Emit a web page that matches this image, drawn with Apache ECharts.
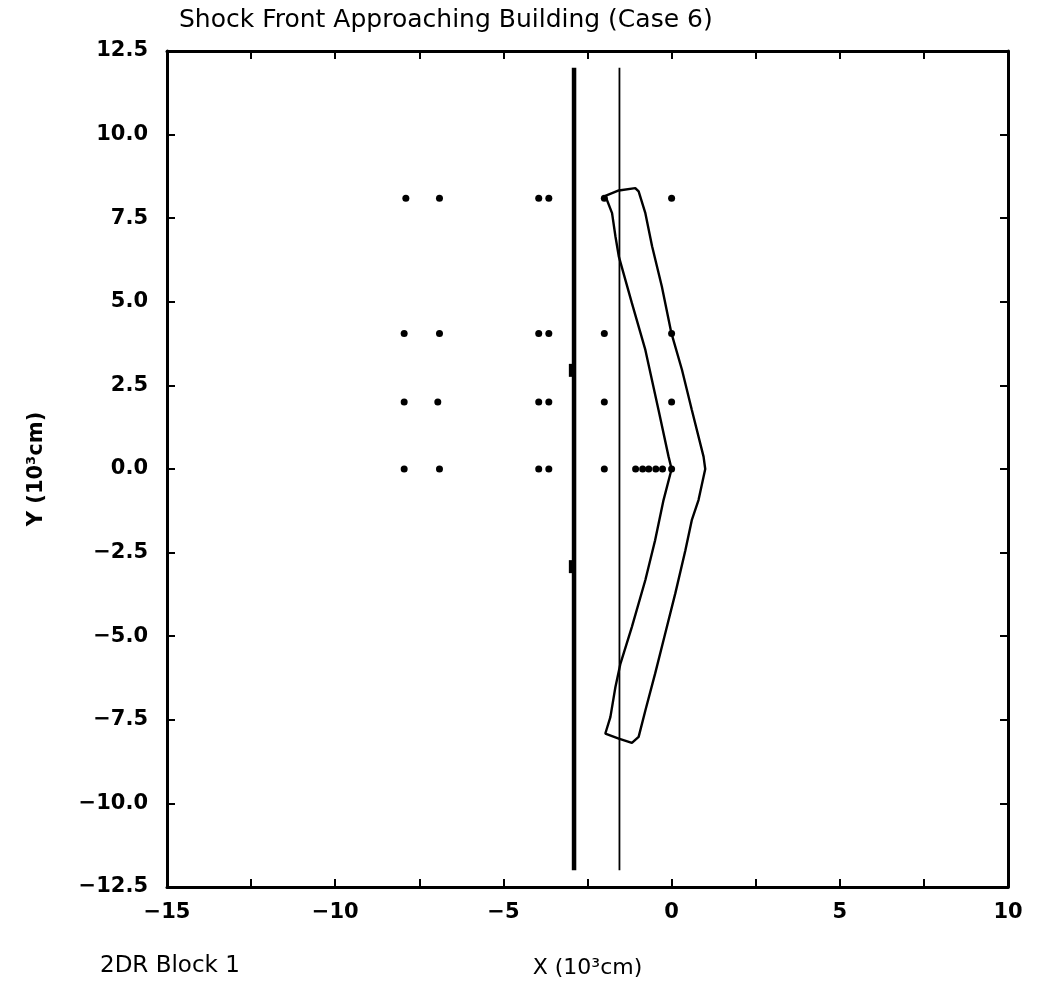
<!DOCTYPE html>
<html>
<head>
<meta charset="utf-8">
<script src="https://cdn.jsdelivr.net/npm/echarts@6/dist/echarts.min.js"></script>
<style>
html,body{margin:0;padding:0;background:#fff;}
#chart{width:1040px;height:992px;}
</style>
</head>
<body>
<div id="chart"></div>
<script>
// ---- data ----
const titleText = 'Shock Front Approaching Building (Case 6)';
const xName = 'X (10\u00B3cm)';
const yName = 'Y (10\u00B3cm)';
const footText = '2DR Block 1';

// gauge / station points (x, y) in 10^3 cm
const gaugePoints = [
  [-7.9, 8.1], [-6.9, 8.1], [-3.95, 8.1], [-3.65, 8.1], [-2.0, 8.1], [0.0, 8.1],
  [-7.95, 4.05], [-6.9, 4.05], [-3.95, 4.05], [-3.65, 4.05], [-2.0, 4.05], [0.0, 4.05],
  [-7.95, 2.0], [-6.95, 2.0], [-3.95, 2.0], [-3.65, 2.0], [-2.0, 2.0], [0.0, 2.0],
  [-7.95, 0.0], [-6.9, 0.0], [-3.95, 0.0], [-3.65, 0.0], [-2.0, 0.0],
  [-1.07, 0.0], [-0.86, 0.0], [-0.68, 0.0], [-0.47, 0.0], [-0.27, 0.0], [0.0, 0.0]
];

// building face (thick line) and reference line (thin line)
const thickLine = [[-2.9, -12.0], [-2.9, 12.0]];
const thinLine = [[-1.55, -12.0], [-1.55, 12.0]];
const thickLineBumps = [[-2.98, 2.95], [-2.98, -2.92]];

// shock front outline (closed loop)
const shockFront = [
  [-1.97, 8.17], [-1.57, 8.33], [-1.08, 8.40], [-0.98, 8.30],
  [-0.78, 7.65], [-0.58, 6.66], [-0.29, 5.46], [-0.01, 4.08],
  [0.31, 2.96], [0.60, 1.77], [0.95, 0.37], [1.00, 0.0],
  [0.80, -0.93], [0.60, -1.53], [0.41, -2.43], [0.11, -3.72],
  [-0.19, -4.92], [-0.49, -6.12], [-0.78, -7.22], [-0.98, -8.01],
  [-1.18, -8.19], [-1.57, -8.06], [-1.97, -7.91],
  [-1.82, -7.42], [-1.67, -6.52], [-1.52, -5.82], [-1.18, -4.72],
  [-0.78, -3.32], [-0.49, -2.13], [-0.24, -0.93], [0.0, 0.0],
  [-0.09, 0.37], [-0.39, 1.77], [-0.78, 3.56], [-1.18, 4.96],
  [-1.57, 6.36], [-1.67, 6.96], [-1.77, 7.65], [-1.97, 8.17]
];

// axes
const xMin = -15, xMax = 10, xStep = 2.5;
const yMin = -12.5, yMax = 12.5, yStep = 2.5;

// ---- chart ----
const tickFont = 'DejaVu Sans';
const fmtX = v => (Math.abs(v % 5) < 1e-9 ? String(v).replace('-', '\u2212') : '');
const fmtY = v => v.toFixed(1).replace('-', '\u2212');

const axisLineStyle = { show: true, onZero: false, lineStyle: { color: '#000', width: 3 } };
const tickStyle = { show: true, inside: true, length: 8, lineStyle: { color: '#000', width: 2 } };

const chart = echarts.init(document.getElementById('chart'), null, { renderer: 'canvas' });
chart.setOption({
  animation: false,
  backgroundColor: '#fff',
  title: {
    text: titleText, left: 174, top: 3,
    textStyle: { fontFamily: tickFont, fontSize: 25, fontWeight: 'normal', color: '#000' }
  },
  graphic: [{
    type: 'text', left: 100, top: 955,
    style: { text: footText, font: 'normal 23px "DejaVu Sans"', fill: '#000' }
  }],
  grid: { left: 167, right: 32, top: 51, bottom: 105, containLabel: false },
  xAxis: [{
    type: 'value', min: xMin, max: xMax, interval: xStep, position: 'bottom',
    axisLine: axisLineStyle, axisTick: tickStyle, splitLine: { show: false },
    axisLabel: { formatter: fmtX, margin: 15, color: '#000', fontFamily: tickFont, fontWeight: 'bold', fontSize: 21 },
    name: xName, nameLocation: 'middle', nameGap: 70,
    nameTextStyle: { fontFamily: tickFont, fontSize: 22, color: '#000' }
  }, {
    type: 'value', min: xMin, max: xMax, interval: xStep, position: 'top',
    axisLine: axisLineStyle, axisTick: tickStyle, splitLine: { show: false },
    axisLabel: { show: false }
  }],
  yAxis: [{
    type: 'value', min: yMin, max: yMax, interval: yStep, position: 'left',
    axisLine: axisLineStyle, axisTick: tickStyle, splitLine: { show: false },
    axisLabel: { formatter: fmtY, margin: 19, color: '#000', fontFamily: tickFont, fontWeight: 'bold', fontSize: 21 },
    name: yName, nameLocation: 'middle', nameGap: 120, nameRotate: 90,
    nameTextStyle: { fontFamily: tickFont, fontSize: 21, fontWeight: 'bold', color: '#000' }
  }, {
    type: 'value', min: yMin, max: yMax, interval: yStep, position: 'right',
    axisLine: axisLineStyle, axisTick: tickStyle, splitLine: { show: false },
    axisLabel: { show: false }
  }],
  series: [
    {
      type: 'line', data: thickLine, symbol: 'none', silent: true,
      lineStyle: { color: '#000', width: 4.5 }
    },
    {
      type: 'line', data: thinLine, symbol: 'none', silent: true,
      lineStyle: { color: '#000', width: 1.8 }
    },
    {
      type: 'scatter', data: thickLineBumps, symbol: 'rect', symbolSize: [5, 13],
      itemStyle: { color: '#000', opacity: 1 }, silent: true
    },
    {
      type: 'line', data: shockFront, symbol: 'none', smooth: false, silent: true,
      lineStyle: { color: '#000', width: 2.4 }
    },
    {
      type: 'scatter', data: gaugePoints, symbol: 'circle', symbolSize: 7,
      itemStyle: { color: '#000', opacity: 1 }, silent: true
    }
  ]
});
</script>
</body>
</html>
